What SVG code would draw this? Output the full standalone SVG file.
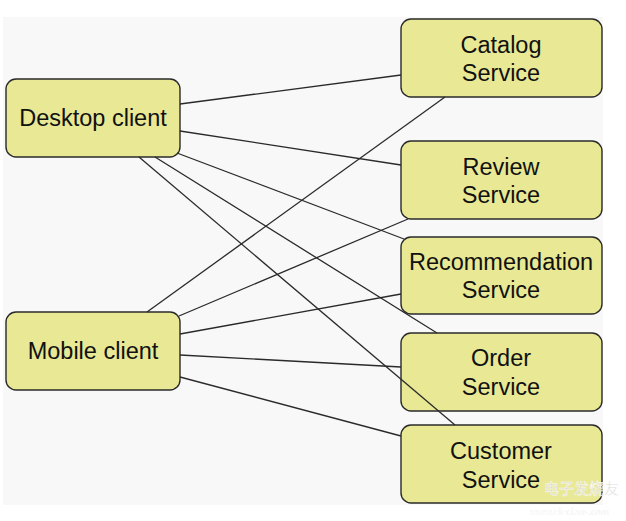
<svg xmlns="http://www.w3.org/2000/svg" width="626" height="521" viewBox="0 0 626 521">
<style>
.node rect{fill:#e8e895;stroke:#2a2a2a;stroke-width:1.4}
.node text{font-family:"Liberation Sans",Arial,sans-serif;font-size:23.5px;fill:#111;text-anchor:middle}
#edges line{stroke:#2a2a2a;stroke-width:1.3}
.wm{font-family:"Noto Sans CJK SC","Liberation Sans",sans-serif;fill:#c4c4c4;stroke:#ffffff;stroke-width:0.6;opacity:0.85}
</style>
<rect x="0" y="0" width="626" height="521" fill="#ffffff"/>
<rect x="3" y="17" width="600" height="488" fill="#f8f8f8"/>
<g id="desktop" class="node"><rect x="6" y="79" width="174" height="78" rx="10"/><text x="93" y="126">Desktop client</text></g>
<g id="mobile" class="node"><rect x="6" y="312" width="174" height="78" rx="10"/><text x="93" y="359">Mobile client</text></g>
<g id="catalog" class="node"><rect x="401" y="19" width="201" height="78" rx="10"/><text x="501" y="53">Catalog</text><text x="501" y="81">Service</text></g>
<g id="review" class="node"><rect x="401" y="141" width="201" height="78" rx="10"/><text x="501" y="175">Review</text><text x="501" y="203">Service</text></g>
<g id="recommendation" class="node"><rect x="401" y="237" width="201" height="77" rx="10"/><text x="501" y="270">Recommendation</text><text x="501" y="298">Service</text></g>
<g id="order" class="node"><rect x="401" y="333" width="201" height="78" rx="10"/><text x="501" y="366">Order</text><text x="501" y="395">Service</text></g>
<g id="customer" class="node"><rect x="401" y="425" width="201" height="78" rx="10"/><text x="501" y="459">Customer</text><text x="501" y="488">Service</text></g>
<g id="edges">
<line x1="180" y1="104" x2="401" y2="75"/>
<line x1="180" y1="131" x2="401" y2="165"/>
<line x1="177" y1="153" x2="404" y2="239"/>
<line x1="155" y1="157" x2="437" y2="333"/>
<line x1="139" y1="157" x2="455" y2="425"/>
<line x1="147" y1="312" x2="445" y2="97"/>
<line x1="179" y1="316" x2="408" y2="219"/>
<line x1="180" y1="334" x2="401" y2="294"/>
<line x1="180" y1="355" x2="401" y2="367"/>
<line x1="180" y1="377" x2="401" y2="436"/>
</g>
<g id="watermark">
<text class="wm" x="544" y="494" font-size="15">电子发烧友</text>
<text class="wm" x="530" y="515" font-size="9">www.elecfans.com</text>
</g>
</svg>
